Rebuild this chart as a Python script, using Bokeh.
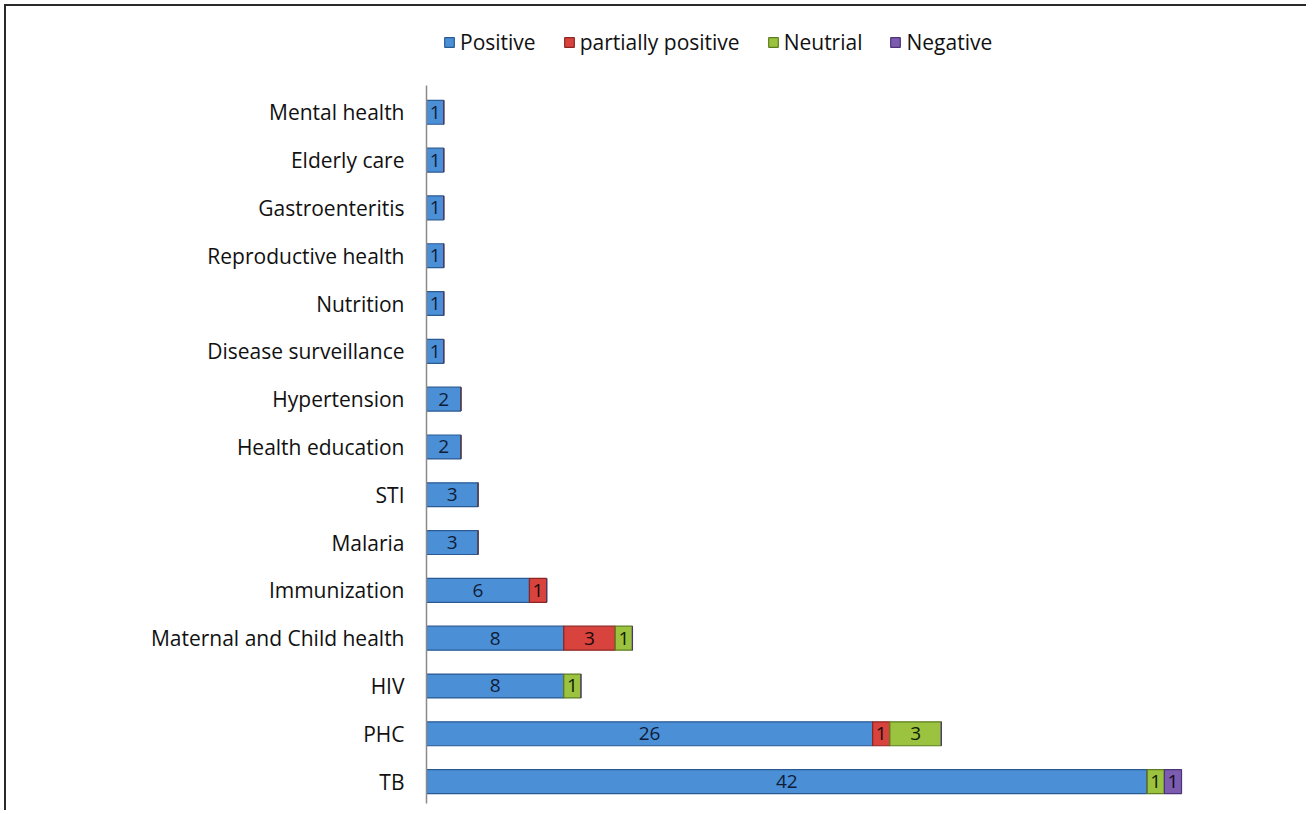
import pandas as pd
from bokeh.plotting import figure
from bokeh.models import ColumnDataSource, Legend, LegendItem, FixedTicker
from bokeh.core.properties import value
from bokeh.embed import file_html
from bokeh.resources import INLINE

# ---- data (bottom to top) ----
categories = ["TB", "PHC", "HIV", "Maternal and Child health", "Immunization",
              "Malaria", "STI", "Health education", "Hypertension",
              "Disease surveillance", "Nutrition", "Reproductive health",
              "Gastroenteritis", "Elderly care", "Mental health"]
positive = [42, 26, 8, 8, 6, 3, 3, 2, 2, 1, 1, 1, 1, 1, 1]
partially_positive = [0, 1, 0, 3, 1, 0, 0, 0, 0, 0, 0, 0, 0, 0, 0]
neutral = [1, 3, 1, 1, 0, 0, 0, 0, 0, 0, 0, 0, 0, 0, 0]
negative = [1, 0, 0, 0, 0, 0, 0, 0, 0, 0, 0, 0, 0, 0, 0]

series = ["Positive", "partially positive", "Neutrial", "Negative"]
fill_colors = ["#4b8fd6", "#d8433d", "#9bc33f", "#7c5cae"]
line_colors = ["#2a5a92", "#8e2420", "#5d7d1e", "#4b3478"]
text_colors = ["#0f1d38", "#1a0a0a", "#111a05", "#120a20"]

FONT = "Open Sans"

pos = list(range(len(categories)))
df = pd.DataFrame({"y": pos, "cat": categories, "Positive": positive,
                   "partially positive": partially_positive,
                   "Neutrial": neutral, "Negative": negative})
source = ColumnDataSource(df)

p = figure(width=1302, height=806, output_backend="svg", toolbar_location=None,
           y_range=(-0.5, 15.92), x_range=(0, 50),
           min_border_left=420, min_border_right=24,
           min_border_top=14, min_border_bottom=7,
           outline_line_color=None, background_fill_color="white",
           border_fill_color="white",
           styles={"border-top": "2px solid #2a2a2a",
                   "border-left": "2px solid #2a2a2a",
                   "margin-left": "4px", "margin-top": "4px"})

renderers = p.hbar_stack(series, y="y", height=0.5, source=source,
                         fill_color=fill_colors, line_color=line_colors,
                         line_width=1.2)

# segment labels
for i, s in enumerate(series):
    left = df[series[:i]].sum(axis=1) if i > 0 else pd.Series([0] * len(df))
    mid = left + df[s] / 2.0
    mask = df[s] > 0
    lab = ColumnDataSource(dict(x=list(mid[mask]), y=list(df["y"][mask]),
                                t=[str(v) for v in df[s][mask]]))
    p.text(x="x", y="y", text="t", source=lab, text_align="center",
           text_baseline="middle", text_font=value(FONT),
           text_font_size="19px", text_color=text_colors[i])

# axes
p.xaxis.visible = False
p.xgrid.visible = False
p.ygrid.visible = False
yax = p.yaxis[0]
yax.ticker = FixedTicker(ticks=pos)
yax.major_label_overrides = {i: c for i, c in zip(pos, categories)}
yax.bounds = (-0.45, 14.55)
yax.axis_line_color = "#8a8a8a"
yax.axis_line_width = 1.5
yax.major_tick_line_color = None
yax.minor_tick_line_color = None
yax.major_label_standoff = 16
yax.major_label_text_font = FONT
yax.major_label_text_font_size = "21px"
yax.major_label_text_color = "#111111"

# legend
legend = Legend(items=[LegendItem(label=s, renderers=[r]) for s, r in zip(series, renderers)],
                orientation="horizontal", location=(17, 749),
                label_text_font=FONT, label_text_font_size="21px",
                label_text_color="#111111",
                glyph_width=12, glyph_height=12, label_standoff=5,
                spacing=27, padding=4, border_line_color=None,
                background_fill_alpha=0)
p.add_layout(legend, "center")

open("out.html", "w").write(file_html(p, INLINE))
